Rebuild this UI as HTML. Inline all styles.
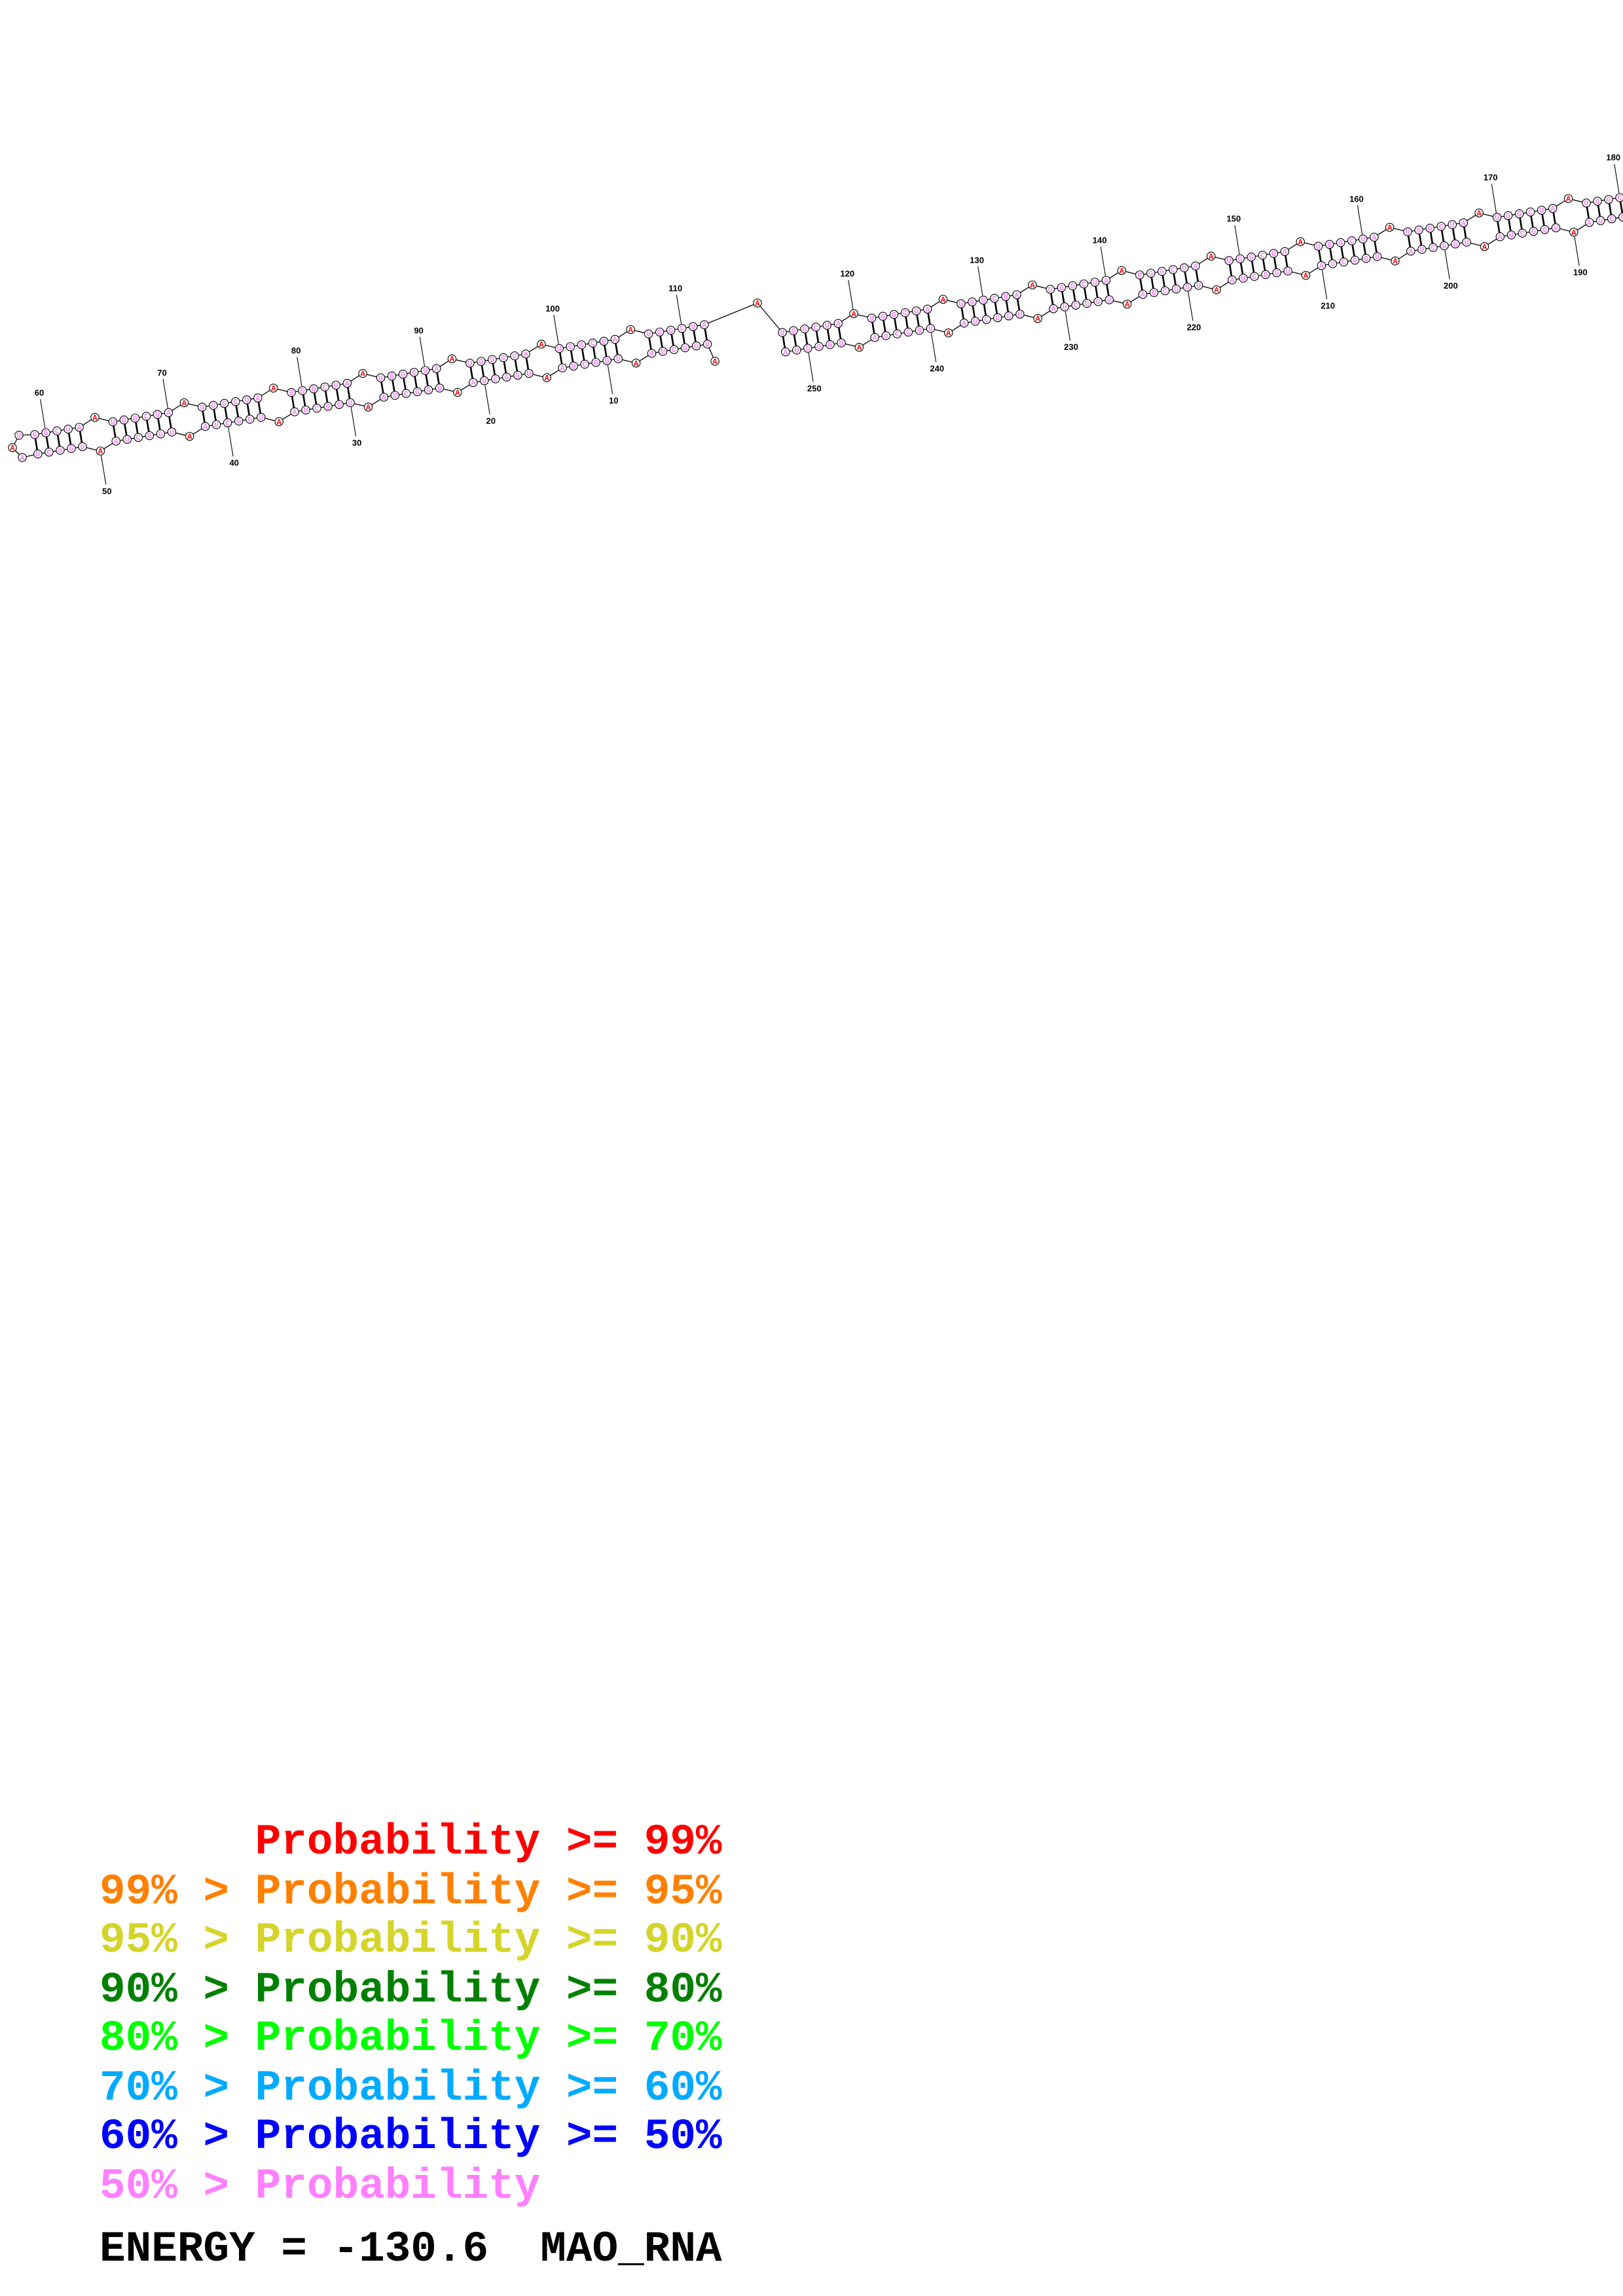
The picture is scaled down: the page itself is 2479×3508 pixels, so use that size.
<!DOCTYPE html>
<html><head><meta charset="utf-8">
<style>
html,body{margin:0;padding:0;background:#fff;}
svg{display:block;}
.lg{font-family:"Liberation Mono",monospace;font-weight:bold;font-size:66px;white-space:pre;}
.nm{font-family:"Liberation Sans",sans-serif;font-weight:bold;font-size:13px;}
.bs{font-family:"Liberation Mono",monospace;font-weight:bold;font-size:12px;}
</style></head>
<body>
<svg id="s" xmlns="http://www.w3.org/2000/svg" width="2479" height="3508" viewBox="0 0 2479 3508">
<rect width="2479" height="3508" fill="#fff"/>
<g id="bb" stroke="#000" stroke-width="1.3" fill="none"></g>
<g id="pr" stroke="#000" stroke-width="2.6" fill="none"></g>
<g id="lb" stroke="#000" stroke-width="1.1"></g>
<g id="nd"></g>
<g id="tx"></g>
<text class="lg" x="389.6" y="2832" fill="#ff0000">Probability &gt;= 99%</text>
<text class="lg" x="152" y="2908" fill="#ff8000">99% &gt; Probability &gt;= 95%</text>
<text class="lg" x="152" y="2982" fill="#d4d42a">95% &gt; Probability &gt;= 90%</text>
<text class="lg" x="152" y="3058" fill="#008000">90% &gt; Probability &gt;= 80%</text>
<text class="lg" x="152" y="3132" fill="#00ff00">80% &gt; Probability &gt;= 70%</text>
<text class="lg" x="152" y="3208" fill="#00aaff">70% &gt; Probability &gt;= 60%</text>
<text class="lg" x="152" y="3282" fill="#0000ff">60% &gt; Probability &gt;= 50%</text>
<text class="lg" x="152" y="3358" fill="#ff80ff">50% &gt; Probability</text>
<text class="lg" x="152" y="3454" fill="#000">ENERGY = -130.6  MAO_RNA</text>
</svg>
<script>
(function(){
var NS="http://www.w3.org/2000/svg";
function el(p,t,a,txt){var e=document.createElementNS(NS,t);for(var k in a)e.setAttribute(k,a[k]);if(txt!==undefined)e.textContent=txt;document.getElementById(p).appendChild(e);return e;}
function nrm(v){var l=Math.hypot(v[0],v[1]);return [v[0]/l,v[1]/l];}
var U=138.2,p=17.26;
var O1=[53,664],d1=nrm([0.987,-0.162]),n1=[-d1[1],d1[0]];
var O2=[1195,508],d2=nrm([0.987,-0.159]),n2=[-d2[1],d2[0]];
function pos(O,d,n,s,off){return [O[0]+s*d[0]+off*n[0],O[1]+s*d[1]+off*n[1]];}
var P=[],L=[],R=[],side=[],pairs=[];
var T="UGGCUA",B="AUCGGU";
for(var k=59;k<=112;k++){var t=k-58,u=Math.floor(t/7),r=t%7,lp=(r==6);
 var s=-17.26+u*U+(lp?112.25:r*p);
 P[k]=pos(O1,d1,n1,s,lp?-11:0);P[114-k]=pos(O1,d1,n1,s,lp?41:30);
 L[k]=lp?"A":T[r];L[114-k]=lp?"A":B[r];R[k]=R[114-k]=lp;
 side[k]=[-n1[0],-n1[1]];side[114-k]=[n1[0],n1[1]];
 if(!lp)pairs.push([k,114-k]);}
P[1]=[1092,552];L[1]="A";R[1]=true;side[1]=n1;
P[56]=[34,699];L[56]="A";P[57]=[19,684];L[57]="A";R[57]=true;P[58]=[29,665];L[58]="U";
P[113]=[1157,463];L[113]="A";R[113]=true;
for(var k=114;k<=182;k++){var t=k-114,u=Math.floor(t/7),r=t%7,lp=(r==6);
 var s=u*U+(lp?112.25:r*p);
 P[k]=pos(O2,d2,n2,s,lp?-11:0);P[366-k]=pos(O2,d2,n2,s,lp?41:30);
 L[k]=lp?"A":T[r];L[366-k]=lp?"A":B[r];R[k]=R[366-k]=lp;
 side[k]=[-n2[0],-n2[1]];side[366-k]=[n2[0],n2[1]];
 if(!lp)pairs.push([k,366-k]);}
P[183]=pos(O2,d2,n2,1350,15);L[183]="A";
for(var i=1;i<252;i++){if(P[i]&&P[i+1])el("bb","line",{x1:P[i][0],y1:P[i][1],x2:P[i+1][0],y2:P[i+1][1]});}
pairs.forEach(function(q){var a=P[q[0]],b=P[q[1]];el("pr","line",{x1:a[0],y1:a[1],x2:b[0],y2:b[1]});});
for(var i=10;i<=250;i+=10){var a=P[i],v=side[i];if(!a||!v)continue;
 el("lb","line",{x1:a[0]+v[0]*7,y1:a[1]+v[1]*7,x2:a[0]+v[0]*52,y2:a[1]+v[1]*52});
 el("tx","text",{"class":"nm",x:a[0]+v[0]*62,y:a[1]+v[1]*62+4.5,"text-anchor":"middle",fill:"#000"},String(i));}
for(var i=1;i<=252;i++){var a=P[i];if(!a)continue;
 el("nd","circle",{cx:a[0],cy:a[1],r:6.2,fill:"#fff",stroke:"#000","stroke-width":1.1});
 el("tx","text",{"class":"bs",x:a[0],y:a[1]+4,"text-anchor":"middle",fill:R[i]?"#ff0000":"#ff80ff"},L[i]);}
})();
</script>
</body></html>
